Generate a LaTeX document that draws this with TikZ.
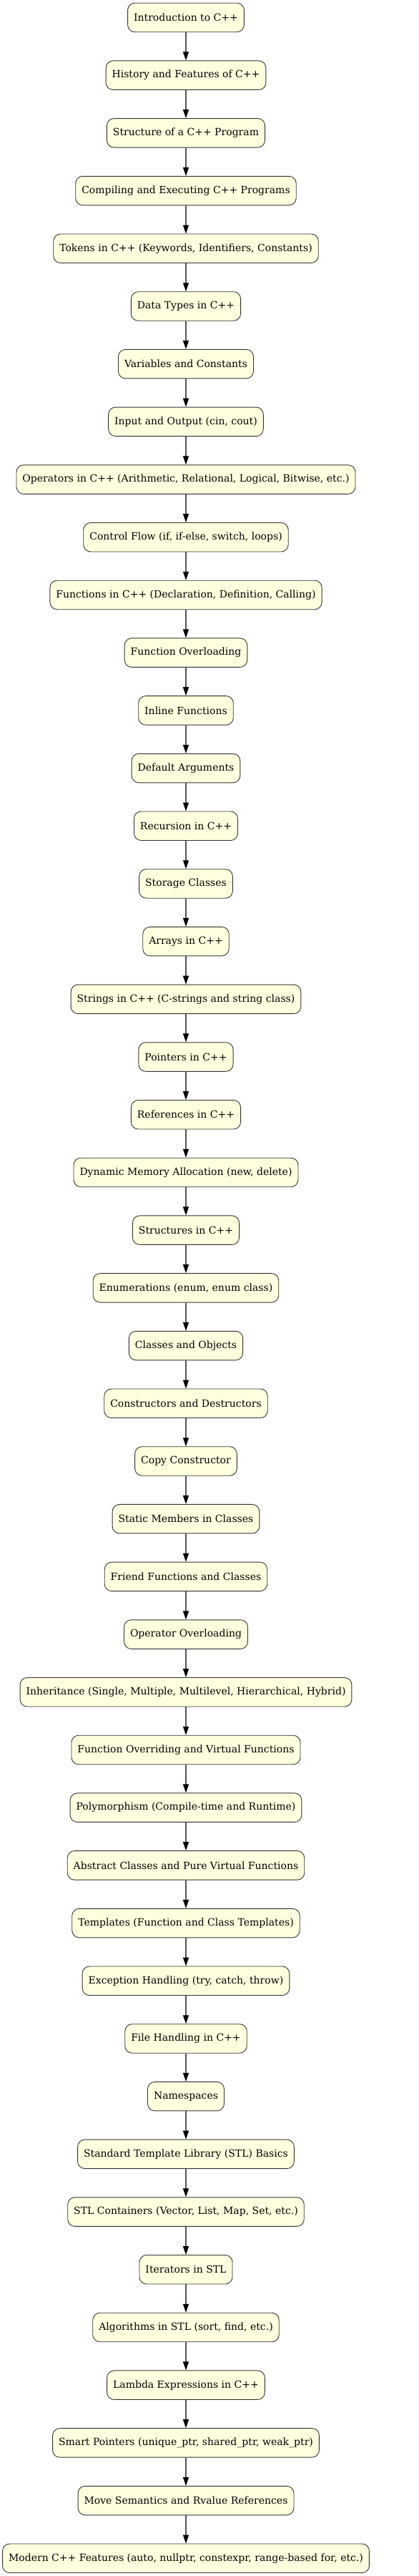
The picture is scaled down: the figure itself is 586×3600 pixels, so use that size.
\documentclass[tikz,border=0pt]{standalone}
\usepackage{fontspec}
\setmainfont{DejaVu Serif}
\usetikzlibrary{arrows.meta}
\definecolor{boxfill}{HTML}{FFFFE0}
\definecolor{boxline}{HTML}{333333}
\definecolor{edgeline}{HTML}{555555}
\begin{document}
\begin{tikzpicture}[x=1pt,y=1pt,
  topic/.style={draw=boxline, fill=boxfill, rounded corners=10pt, line width=0.9pt,
    minimum height=40.5pt, inner xsep=8.5pt, inner ysep=0pt, font=\fontsize{14}{16}\selectfont},
  flow/.style={draw=edgeline, line width=1.2pt, -{Triangle[length=12pt,width=8pt,fill=black,color=black]}}]
\useasboundingbox (0,0) rectangle (586,3600);
\foreach [count=\i] \t in {
Introduction to C++,
History and Features of C++,
Structure of a C++ Program,
Compiling and Executing C++ Programs,
{Tokens in C++ (Keywords, Identifiers, Constants)},
Data Types in C++,
Variables and Constants,
{Input and Output (cin, cout)},
{Operators in C++ (Arithmetic, Relational, Logical, Bitwise, etc.)},
{Control Flow (if, if-else, switch, loops)},
{Functions in C++ (Declaration, Definition, Calling)},
Function Overloading,
Inline Functions,
Default Arguments,
Recursion in C++,
Storage Classes,
Arrays in C++,
Strings in C++ (C-strings and string class),
Pointers in C++,
References in C++,
{Dynamic Memory Allocation (new, delete)},
Structures in C++,
{Enumerations (enum, enum class)},
Classes and Objects,
Constructors and Destructors,
Copy Constructor,
Static Members in Classes,
Friend Functions and Classes,
Operator Overloading,
{Inheritance (Single, Multiple, Multilevel, Hierarchical, Hybrid)},
Function Overriding and Virtual Functions,
Polymorphism (Compile-time and Runtime),
Abstract Classes and Pure Virtual Functions,
Templates (Function and Class Templates),
{Exception Handling (try, catch, throw)},
File Handling in C++,
Namespaces,
Standard Template Library (STL) Basics,
{STL Containers (Vector, List, Map, Set, etc.)},
Iterators in STL,
{Algorithms in STL (sort, find, etc.)},
Lambda Expressions in C++,
{Smart Pointers (unique\_ptr, shared\_ptr, weak\_ptr)},
Move Semantics and Rvalue References,
{Modern C++ Features (auto, nullptr, constexpr, range-based for, etc.)}}
{
  \node[topic] (n\i) at (260, {3600-24.5-(\i-1)*80.7}) {\t};
}
\foreach \i [evaluate=\i as \j using int(\i+1)] in {1,...,44}
  \draw[flow] (n\i) -- (n\j);
\end{tikzpicture}
\end{document}
